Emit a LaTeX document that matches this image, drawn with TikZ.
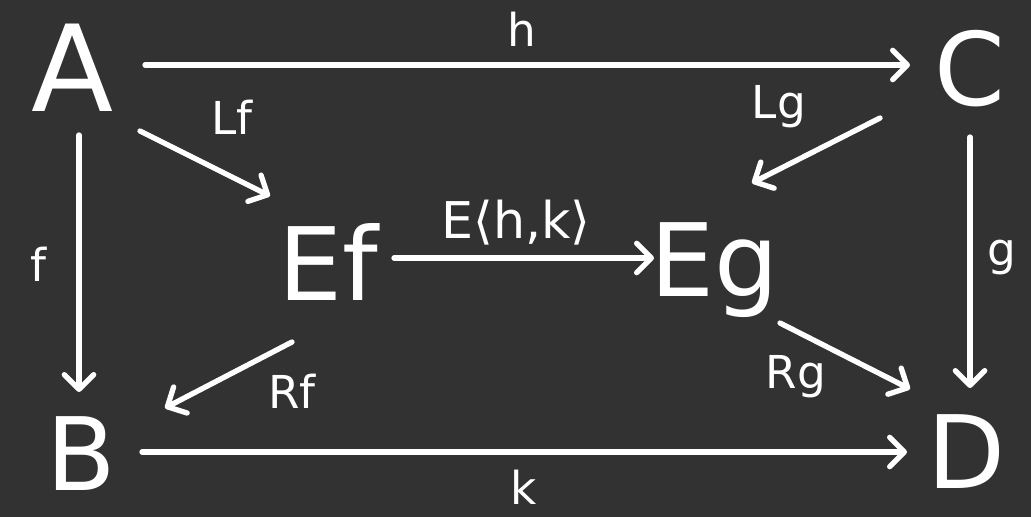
\documentclass[tikz,border=0pt]{standalone}
\usepackage{fontspec}
\setmainfont{DejaVu Sans}
\usetikzlibrary{arrows.meta,calc}
\definecolor{board}{HTML}{323232}
\definecolor{chalk}{HTML}{FFFFFF}

\begin{document}
\begin{tikzpicture}[
  x=0.75pt,y=-0.75pt,
  obj/.style={text=chalk,inner sep=0pt,font=\fontsize{76}{80}\selectfont,
              text height=55pt,text depth=0pt},
  lbl/.style={text=chalk,inner sep=0pt,font=\fontsize{34}{38}\selectfont,
              text height=25pt,text depth=0pt},
  arr/.style={draw=chalk,line width=4pt,line cap=round,line join=round,
              -{Straight Barb[length=11pt,width=22pt,round]}}
]
\fill[board] (0,0) rectangle (1031,517);
% objects
\node[obj,font=\fontsize{90}{94}\selectfont,text height=65pt] (A) at (73,68) {A};
\node[obj] (B) at (81,454) {B};
\node[obj] (C) at (970,69) {C};
\node[obj] (D) at (967,452) {D};
\node[obj] (Ef) at (328,264) {Ef};
\node[obj] (Eg) at (715,260) {Eg};
% labels
\node[lbl] (lh) at (522,30) {h};
\node[lbl] (lk) at (524,488) {k};
\node[lbl] (lLf) at (232,118) {Lf};
\node[lbl] (lLg) at (779,102) {Lg};
\node[lbl] (lRf) at (292,392) {Rf};
\node[lbl] (lRg) at (796,372) {Rg};
\node[lbl] (lf) at (38,265) {f};
\node[lbl] (lg) at (1002,249) {g};
\node[lbl,font=\fontsize{38}{42}\selectfont,text height=28pt] (lE) at (516,220)
  {E⟨h,k⟩};
% arrows
\draw[arr] ($(A)+(72,-3)$) -- ($(C)+(-60,-4)$);
\draw[arr] ($(A)+(6,67)$) -- ($(B)+(-2,-62)$);
\draw[arr] ($(C)+(0,68)$) -- ($(D)+(3,-64)$);
\draw[arr] ($(B)+(61,-2)$) -- ($(D)+(-60,0)$);
\draw[arr] ($(A)+(67,63)$) -- ($(Ef)+(-58,-68)$);
\draw[arr] ($(C)+(-90,49)$) -- ($(Eg)+(37,-77)$);
\draw[arr] ($(Ef)+(66,-6)$) -- ($(Eg)+(-61,-2)$);
\draw[arr] ($(Ef)+(-36,78)$) -- ($(B)+(84,-46)$);
\draw[arr] ($(Eg)+(65,63)$) -- ($(D)+(-57,-63)$);
\end{tikzpicture}
\end{document}
